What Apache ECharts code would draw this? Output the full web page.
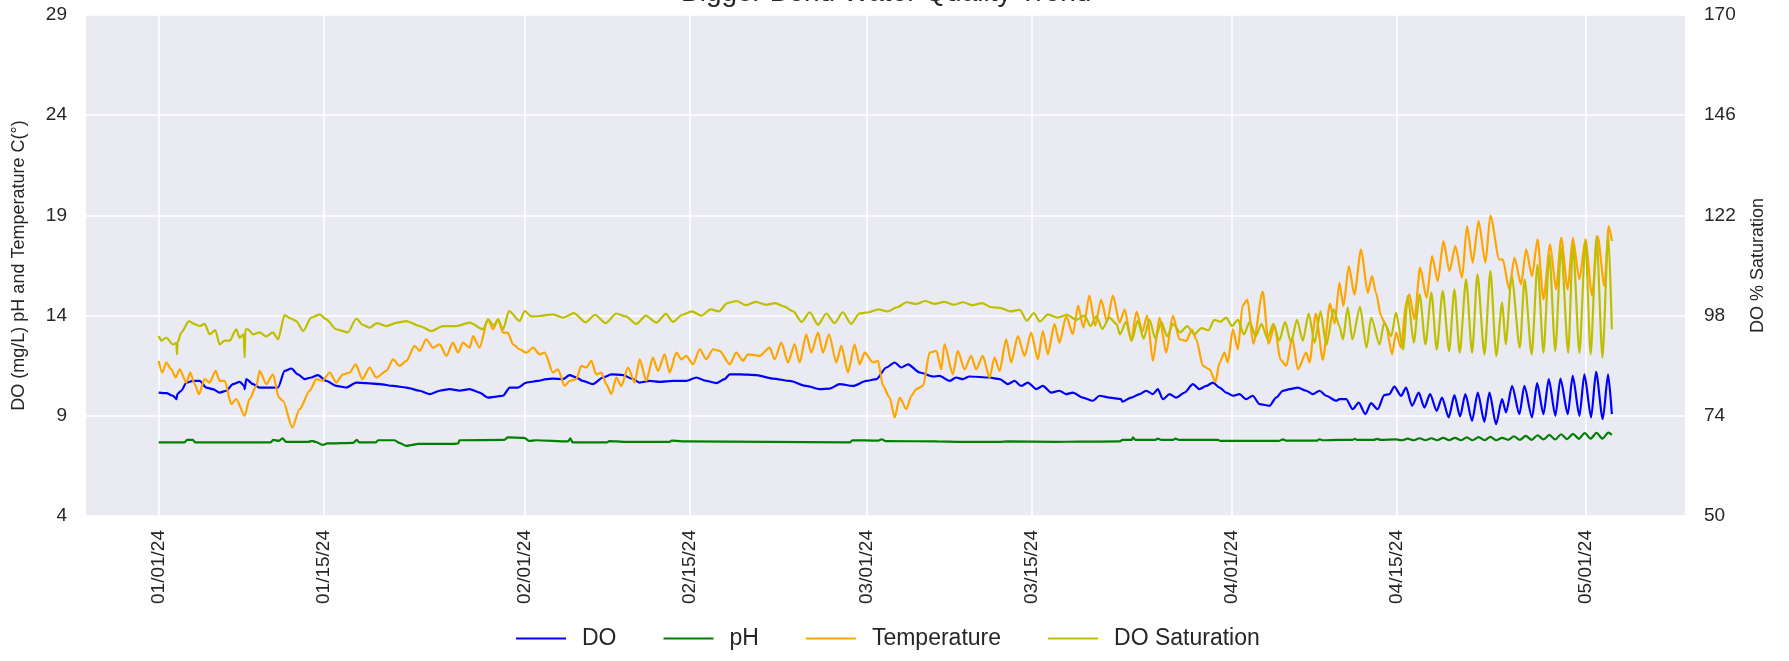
<!DOCTYPE html>
<html lang="en">
<head>
    <meta charset="UTF-8" />
    <title>Bigger Bend Water Quality Trend</title>
    <script src="https://cdn.jsdelivr.net/npm/echarts@6/dist/echarts.min.js"></script>
    <style type="text/css">
        html, body { margin: 0; padding: 0; background: #fff; }
        #chart { width: 1789px; height: 661px; }
    </style>
</head>
<body>
    <div id="chart"></div>
    <script type="text/javascript">
        // days counted from 01/01/24 00:00
        var seriesNames = ['DO', 'pH', 'Temperature', 'DO Saturation'];
        var tickDates = ['2024-01-01', '2024-01-15', '2024-02-01', '2024-02-15', '2024-03-01',
                         '2024-03-15', '2024-04-01', '2024-04-15', '2024-05-01'];
        var leftTicks = [4, 9, 14, 19, 24, 29];
        var rightTicks = [50, 74, 98, 122, 146, 170];

        var doPoints = [
            [0,10.16],[0.65,10.13],[1.22,10.0],[1.5,9.83],[1.6,10.1],[1.92,10.25],[2.35,10.66],[2.91,10.74],
            [3.48,10.74],[4.04,10.41],[4.6,10.33],[5.17,10.16],[5.74,10.25],[6.3,10.58],[6.87,10.69],[7.25,10.5],
            [7.29,10.33],[7.43,10.83],[8.0,10.58],[8.56,10.41],[9.41,10.41],[10.12,10.41],[10.68,11.24],[11.25,11.36],
            [11.81,11.07],[12.38,10.83],[12.94,10.91],[13.5,11.03],[14.21,10.74],[15.06,10.49],[15.91,10.41],
            [16.76,10.66],[17.61,10.63],[18.74,10.58],[19.87,10.49],[21.0,10.41],[22.13,10.25],[22.98,10.08],
            [23.82,10.25],[24.67,10.33],[25.52,10.25],[26.37,10.33],[27.2,10.16],[27.92,9.91],[28.63,9.96],
            [29.19,10.0],[29.76,10.41],[30.46,10.41],[31.17,10.66],[32.16,10.74],[32.87,10.83],[33.43,10.86],
            [34.28,10.83],[34.84,11.03],[35.4,10.91],[35.97,10.74],[36.8,10.58],[37.67,10.91],[38.38,11.07],
            [39.37,11.03],[40.21,10.83],[40.78,10.66],[41.63,10.74],[42.47,10.69],[43.6,10.74],[44.73,10.74],
            [45.58,10.91],[46.43,10.74],[47.28,10.63],[47.98,10.83],[48.41,11.07],[49.26,11.07],[50.67,11.03],
            [52.08,10.86],[53.5,10.74],[54.9,10.49],[56.04,10.33],[56.89,10.36],[57.73,10.58],[58.86,10.49],
            [60.0,10.74],[60.84,10.83],[61.69,11.41],[62.4,11.66],[62.96,11.41],[63.53,11.57],[64.52,11.16],
            [65.65,10.96],[66.2,10.99],[67.05,10.74],[67.6,10.91],[68.18,10.83],[68.74,10.96],[70.44,10.91],
            [71.29,10.83],[72.0,10.58],[72.56,10.74],[73.12,10.49],[73.69,10.66],[74.4,10.33],[74.96,10.49],
            [75.67,10.16],[76.37,10.25],[76.94,10.08],[77.5,10.16],[78.35,9.91],[79.2,9.75],[79.76,10.0],
            [80.61,9.91],[81.6,9.83],[81.69,9.7],[82.45,9.91],[83.16,10.08],[83.72,10.25],[84.29,10.08],
            [84.71,10.33],[85.13,9.83],[85.7,10.08],[86.27,9.91],[86.97,10.16],[87.68,10.58],[88.24,10.33],
            [88.81,10.49],[89.37,10.66],[89.94,10.41],[90.5,10.16],[91.07,10.0],[91.63,10.08],[92.2,9.83],
            [92.76,10.0],[93.33,9.58],[94.18,9.5],[94.74,9.91],[95.31,10.25],[95.87,10.33],[96.58,10.41],
            [97.29,10.25],[97.85,10.08],[98.42,10.25],[98.98,10.0],[99.83,9.75],[100.1,9.83],[100.67,9.83],
            [101.23,9.33],[101.74,9.66],[102.3,9.08],[102.78,9.63],[103.35,9.33],[103.9,10.03],[104.34,10.08],
            [104.76,10.46],[105.33,9.99],[105.75,10.41],[106.26,9.5],[106.83,10.16],[107.3,9.41],[107.79,10.08],
            [108.35,9.25],[108.8,9.91],[109.37,8.92],[109.85,10.03],[110.33,8.97],[110.78,10.08],[111.35,8.75],
            [111.83,10.16],[112.39,8.7],[112.82,10.16],[113.38,8.58],[113.89,9.83],[114.23,9.17],[114.74,10.49],
            [115.36,9.08],[115.78,10.49],[116.43,8.92],[116.86,10.63],[117.4,9.08],[117.85,10.83],[118.41,9.0],
            [118.84,10.86],[119.46,9.08],[119.88,10.99],[120.45,9.0],[120.87,11.07],[121.44,8.92],[121.86,11.19],
            [122.43,8.83],[122.88,11.07],[123.2,9.08]
        ];

        var phPoints = [
            [0,7.67],[2.2,7.67],[2.4,7.8],[2.9,7.8],[3.1,7.67],[9.5,7.67],[9.7,7.8],[10.2,7.75],[10.5,7.88],
            [10.8,7.7],[12.7,7.7],[13.0,7.75],[13.3,7.7],[13.9,7.55],[14.3,7.62],[16.5,7.65],[16.8,7.8],[17.0,7.67],
            [18.4,7.67],[18.6,7.78],[20.0,7.78],[20.4,7.65],[21.0,7.5],[21.5,7.55],[22.0,7.6],[25.0,7.6],
            [25.4,7.62],[25.5,7.78],[29.3,7.8],[29.6,7.92],[31.0,7.9],[31.4,7.75],[32.0,7.78],[34.7,7.72],
            [34.9,7.87],[35.1,7.67],[38.0,7.67],[38.2,7.74],[39.5,7.7],[43.3,7.7],[43.5,7.76],[44.8,7.72],
            [58.6,7.67],[58.8,7.78],[61.0,7.76],[61.3,7.83],[61.6,7.74],[66.0,7.72],[68.0,7.7],[71.3,7.7],
            [72.0,7.72],[76.0,7.7],[78.0,7.71],[81.5,7.72],[81.7,7.8],[82.5,7.8],[82.6,7.92],[82.8,7.8],
            [84.5,7.8],[84.7,7.86],[85.0,7.8],[86.0,7.8],[86.2,7.86],[86.5,7.8],[89.8,7.8],[90.0,7.75],
            [95.0,7.75],[95.3,7.82],[95.6,7.76],[98.2,7.76],[98.4,7.83],[98.7,7.78],[100.0,7.8],[101.2,7.8],
            [101.4,7.85],[101.6,7.8],[103.0,7.8],[103.3,7.85],[103.6,7.8],[104.9,7.82],[105.4,7.78],[105.9,7.86],
            [106.4,7.78],[106.9,7.88],[107.4,7.78],[107.9,7.88],[108.4,7.78],[108.9,7.9],[109.4,7.78],[109.9,7.9],
            [110.4,7.78],[110.9,7.92],[111.4,7.78],[111.9,7.94],[112.4,7.78],[112.9,7.95],[113.4,7.78],[113.9,7.9],
            [114.4,7.8],[114.9,7.98],[115.4,7.8],[115.9,8.0],[116.4,7.8],[116.9,8.03],[117.4,7.82],[117.9,8.05],
            [118.4,7.82],[118.9,8.08],[119.4,7.84],[119.9,8.1],[120.4,7.85],[120.9,8.14],[121.4,7.86],[121.9,8.15],
            [122.4,7.86],[122.9,8.16],[123.2,8.05]
        ];

        var tempPoints = [
            [0,11.74],[0.31,11.16],[0.65,11.66],[1.07,11.32],[1.44,10.91],[1.78,11.32],[2.35,10.66],[2.68,11.16],
            [3.05,10.58],[3.42,10.08],[3.9,10.83],[4.32,10.66],[4.83,11.24],[5.17,10.74],[5.6,10.74],[6.16,9.58],
            [6.58,9.83],[7.29,9.0],[7.7,9.83],[8.28,10.49],[8.56,11.24],[9.13,10.58],[9.69,11.07],[10.2,9.91],
            [10.54,9.75],[11.33,8.42],[11.95,9.33],[12.8,10.25],[13.37,10.83],[13.88,10.74],[14.5,11.16],
            [15.06,10.66],[15.63,11.07],[16.19,11.16],[16.7,11.57],[17.27,10.83],[17.89,11.41],[18.45,10.91],
            [19.3,11.24],[19.87,11.82],[20.43,11.49],[21.0,11.74],[21.7,12.49],[22.13,12.24],[22.69,12.82],
            [23.26,12.4],[23.82,12.57],[24.39,11.99],[24.95,12.65],[25.38,12.15],[25.8,12.65],[26.37,12.4],
            [26.65,12.98],[27.2,12.4],[27.92,13.81],[28.35,13.32],[28.77,13.81],[29.19,13.15],[29.6,13.15],
            [30.04,12.57],[30.6,12.32],[31.17,12.15],[31.74,12.4],[32.3,12.07],[32.73,12.15],[33.43,11.16],
            [33.85,11.32],[34.42,10.49],[34.84,10.74],[35.4,10.83],[35.83,11.49],[36.26,11.41],[36.68,11.74],
            [37.1,11.07],[37.53,11.16],[37.95,10.58],[38.38,10.08],[38.8,10.91],[39.22,10.49],[39.79,11.41],
            [40.35,10.66],[40.78,11.82],[41.34,10.74],[41.9,11.9],[42.33,11.24],[42.9,12.07],[43.32,11.16],
            [43.89,12.15],[44.31,11.82],[44.73,11.99],[45.3,11.57],[45.87,12.32],[46.43,11.82],[47.0,12.32],
            [47.56,12.24],[48.41,11.57],[48.97,12.15],[49.54,11.74],[49.96,12.07],[50.95,11.99],[51.8,12.4],
            [52.22,11.82],[52.79,12.65],[53.35,11.66],[53.92,12.57],[54.34,11.66],[54.9,13.07],[55.33,12.15],
            [55.9,13.15],[56.32,12.15],[56.83,13.07],[57.45,11.66],[57.88,12.49],[58.44,11.16],[59.0,12.57],
            [59.43,11.57],[59.85,12.15],[60.56,11.66],[60.98,11.74],[61.41,10.49],[61.97,9.91],[62.4,8.92],
            [62.82,9.91],[63.39,9.33],[63.81,10.0],[64.24,10.33],[64.8,10.49],[65.36,12.15],[65.93,12.24],
            [66.35,11.32],[66.62,12.57],[67.33,11.07],[67.75,12.24],[68.32,11.32],[68.88,11.99],[69.3,11.32],
            [69.87,11.99],[70.44,10.91],[70.86,11.9],[71.29,11.24],[71.85,12.82],[72.28,11.66],[72.84,12.98],
            [73.41,11.99],[73.97,13.15],[74.54,11.82],[74.96,13.23],[75.38,12.07],[75.95,13.57],[76.37,12.65],
            [76.94,13.98],[77.5,13.07],[77.95,14.5],[78.4,13.4],[78.9,15.0],[79.4,13.5],[79.9,14.8],[80.4,13.7],
            [80.9,15.0],[81.46,13.65],[81.9,14.3],[82.45,12.74],[82.9,14.2],[83.4,13.2],[83.8,14.0],[84.29,11.74],
            [84.85,13.9],[85.42,12.15],[85.98,14.0],[86.55,12.82],[87.11,12.74],[87.6,13.3],[87.96,12.82],
            [88.53,11.49],[89.09,11.32],[89.6,10.69],[89.94,11.66],[90.36,12.15],[90.64,11.66],[91.07,13.32],
            [91.49,12.32],[91.9,14.5],[92.3,14.8],[92.8,12.6],[93.6,15.2],[94.1,12.6],[94.6,13.5],[95.1,11.8],
            [95.6,11.49],[96.1,12.9],[96.58,11.32],[97.29,12.15],[97.57,11.66],[98.1,14.1],[98.7,11.8],
            [99.3,14.6],[99.7,13.6],[100.1,15.64],[100.44,14.48],[100.9,16.47],[101.37,15.06],[101.94,17.3],
            [102.5,15.14],[102.87,15.97],[103.2,15.14],[103.63,13.98],[104.06,13.48],[104.57,12.07],[104.9,13.15],
            [105.33,12.4],[105.75,14.64],[106.03,15.06],[106.46,13.81],[106.94,16.39],[107.5,14.89],[107.96,16.97],
            [108.44,15.72],[108.92,17.72],[109.43,16.22],[109.93,17.47],[110.5,15.89],[110.92,18.46],[111.4,16.64],
            [111.9,18.71],[112.48,16.64],[112.9,18.99],[113.66,16.8],[113.95,16.8],[114.5,15.31],[114.94,16.89],
            [115.5,15.56],[115.93,17.3],[116.43,15.97],[116.9,17.8],[117.4,14.81],[117.96,17.55],[118.47,15.31],
            [118.9,17.88],[119.46,15.31],[119.88,17.88],[120.45,15.81],[120.96,17.8],[121.52,15.0],[122.0,17.96],
            [122.57,15.47],[122.93,18.46],[123.2,17.72]
        ];

        var satPoints = [
            [0,93.1],[0.23,92.0],[0.65,92.7],[1.22,91.1],[1.5,91.5],[1.55,88.7],[1.6,91.5],[1.92,94.0],[2.57,96.7],
            [3.0,96.0],[3.48,95.5],[3.9,96.0],[4.33,93.5],[4.8,94.5],[5.17,91.1],[5.6,92.0],[6.02,92.0],[6.58,94.7],
            [6.87,92.7],[7.2,93.5],[7.29,88.0],[7.35,94.7],[7.57,94.7],[8.0,93.5],[8.56,94.0],[9.1,93.0],[9.69,94.0],
            [10.12,92.3],[10.68,98.1],[11.2,97.3],[11.67,96.7],[12.24,94.3],[12.94,97.5],[13.65,98.3],[14.21,97.1],
            [15.06,94.7],[16.05,94.0],[16.76,97.3],[17.3,95.8],[17.89,95.1],[18.5,96.2],[19.3,95.5],[20.2,96.3],
            [21.0,96.7],[22.13,95.5],[23.12,94.3],[24.1,95.5],[25.24,95.5],[26.37,96.3],[27.5,94.7],[27.92,97.1],
            [28.4,95.6],[28.77,97.1],[29.19,94.7],[29.7,99.1],[30.6,96.7],[31.03,99.1],[31.6,97.8],[32.3,97.9],
            [33.43,98.3],[34.3,97.5],[35.2,98.6],[36.2,96.4],[37.0,98.2],[37.9,96.2],[38.8,98.5],[39.6,97.8],
            [40.5,96.0],[41.3,98.0],[42.2,96.3],[43.0,98.4],[43.6,96.5],[44.4,98.2],[45.2,99.0],[46.0,98.0],
            [46.8,99.5],[47.5,99.0],[48.2,101.0],[49.0,101.5],[49.8,100.5],[50.6,101.3],[51.5,100.6],[52.3,101.0],
            [53.0,100.2],[53.8,99.0],[54.5,96.5],[55.2,98.8],[55.9,95.8],[56.6,98.5],[57.3,96.2],[58.0,98.8],
            [58.7,96.0],[59.4,98.5],[60.2,98.8],[61.0,99.5],[61.8,99.0],[62.6,100.0],[63.4,101.2],[64.2,100.8],
            [65.0,101.5],[65.8,100.8],[66.6,101.3],[67.4,100.6],[68.2,101.2],[69.0,100.5],[69.8,101.0],[70.6,100.0],
            [71.4,99.8],[72.2,99.0],[73.0,99.4],[73.6,96.8],[74.2,98.6],[74.7,96.6],[75.4,98.3],[76.2,97.5],
            [77.0,98.2],[77.8,97.0],[78.5,98.0],[79.0,95.5],[79.5,97.8],[80.0,94.8],[80.6,97.5],[81.2,96.0],
            [81.5,93.5],[82.0,96.5],[82.5,92.0],[83.0,96.8],[83.5,92.5],[84.0,97.0],[84.5,92.5],[85.0,96.5],
            [85.5,93.0],[86.0,96.0],[86.6,94.0],[87.2,95.5],[87.8,93.5],[88.4,95.0],[89.0,94.5],[89.5,97.0],
            [90.0,96.5],[90.5,97.5],[91.0,95.5],[91.5,97.0],[92.0,93.5],[92.5,96.5],[93.0,93.0],[93.5,96.0],
            [94.0,92.5],[94.5,96.0],[95.0,92.0],[95.5,96.5],[96.0,91.5],[96.5,97.0],[97.0,92.0],[97.5,98.5],
            [98.0,91.5],[98.5,99.0],[99.0,91.0],[99.6,99.5],[100.1,95.5],[100.4,92.3],[100.8,99.9],[101.2,92.3],
            [101.85,100.1],[102.4,90.3],[102.8,97.5],[103.5,91.1],[103.9,96.3],[104.5,93.1],[104.9,98.7],
            [105.5,89.9],[105.9,102.7],[106.4,91.5],[106.9,103.1],[107.4,91.1],[107.9,103.5],[108.35,89.9],
            [108.86,103.9],[109.4,89.5],[109.85,104.3],[110.3,89.1],[110.84,106.7],[111.35,89.1],[111.8,107.9],
            [112.4,88.7],[112.9,108.7],[113.4,88.3],[113.9,101.1],[114.2,91.1],[114.7,107.5],[115.4,90.3],
            [115.8,106.7],[116.4,88.7],[116.9,110.3],[117.4,89.1],[117.9,112.7],[118.4,89.5],[118.9,114.2],
            [119.5,89.1],[119.9,115.0],[120.45,89.1],[120.96,115.8],[121.4,88.7],[121.9,117.0],[122.4,88.0],
            [122.9,117.4],[123.2,94.7]
        ];

        var START = Date.UTC(2024, 0, 1);
        var DAY = 86400000;

        function toTime(points) {
            return points.map(function (p) { return [START + p[0] * DAY, p[1]]; });
        }
        function pad(n) { return (n < 10 ? '0' : '') + n; }

        var tickValues = tickDates.map(function (s) {
            var parts = s.split('-');
            return Date.UTC(+parts[0], +parts[1] - 1, +parts[2]);
        });

        var FONT = "'Liberation Sans', Arial, sans-serif";
        var TEXT = '#262626';

        var chart = echarts.init(document.getElementById('chart'), null, { renderer: 'canvas' });

        function lineSeries(name, points, color, axisIndex) {
            return {
                name: name,
                type: 'line',
                yAxisIndex: axisIndex,
                data: toTime(points),
                showSymbol: false,
                symbol: 'none',
                smooth: 0.25,
                smoothMonotone: 'x',
                color: color,
                lineStyle: { color: color, width: 2.2 }
            };
        }

        var option = {
            animation: false,
            backgroundColor: '#ffffff',
            textStyle: { fontFamily: FONT, color: TEXT },
            title: {
                text: 'Bigger Bend Water Quality Trend',
                left: 681,
                top: -21,
                padding: 0,
                textStyle: { fontFamily: FONT, fontSize: 28, fontWeight: 'normal', color: TEXT }
            },
            grid: {
                left: 86, right: 104, top: 15, bottom: 145,
                show: true, backgroundColor: '#eaeaf2', borderWidth: 0
            },
            legend: {
                data: seriesNames,
                left: 511,
                top: 622,
                itemWidth: 50,
                itemHeight: 14,
                itemGap: 47,
                icon: 'path://M0,6 L50,6 L50,8 L0,8 Z',
                textStyle: { fontFamily: FONT, fontSize: 23, color: TEXT, padding: [0, 0, 0, 11] }
            },
            xAxis: {
                // timestamps on a value axis so that the ticks can sit on the reference's dates
                type: 'value',
                min: START - 6.16 * DAY,
                max: START + 129.4 * DAY,
                axisLine: { show: false },
                axisTick: { show: false, customValues: tickValues },
                splitLine: { show: true, lineStyle: { color: '#ffffff', width: 1.6 } },
                axisLabel: {
                    customValues: tickValues,
                    rotate: 90,
                    margin: 14,
                    fontFamily: FONT,
                    fontSize: 19,
                    color: TEXT,
                    formatter: function (v) {
                        var d = new Date(v);
                        return pad(d.getUTCMonth() + 1) + '/' + pad(d.getUTCDate()) + '/' +
                            String(d.getUTCFullYear()).slice(2);
                    }
                }
            },
            yAxis: [
                {
                    type: 'value',
                    min: leftTicks[0],
                    max: leftTicks[leftTicks.length - 1],
                    interval: leftTicks[1] - leftTicks[0],
                    name: 'DO (mg/L) pH and Temperature C(\u00b0)',
                    nameLocation: 'middle',
                    nameRotate: 90,
                    nameGap: 58,
                    nameTextStyle: { fontFamily: FONT, fontSize: 18, color: TEXT },
                    axisLine: { show: false },
                    axisTick: { show: false },
                    splitLine: { show: true, lineStyle: { color: '#ffffff', width: 1.6 } },
                    axisLabel: { margin: 19, fontFamily: FONT, fontSize: 19, color: TEXT }
                },
                {
                    type: 'value',
                    min: rightTicks[0],
                    max: rightTicks[rightTicks.length - 1],
                    interval: rightTicks[1] - rightTicks[0],
                    position: 'right',
                    name: 'DO % Saturation',
                    nameLocation: 'middle',
                    nameRotate: 90,
                    nameGap: 64,
                    nameTextStyle: { fontFamily: FONT, fontSize: 18, color: TEXT },
                    axisLine: { show: false },
                    axisTick: { show: false },
                    splitLine: { show: false },
                    axisLabel: { margin: 19, fontFamily: FONT, fontSize: 19, color: TEXT }
                }
            ],
            series: [
                lineSeries(seriesNames[0], doPoints, '#0000ff', 0),
                lineSeries(seriesNames[1], phPoints, '#008000', 0),
                lineSeries(seriesNames[2], tempPoints, '#ffa500', 0),
                lineSeries(seriesNames[3], satPoints, '#bfbf00', 1)
            ]
        };

        chart.setOption(option);
    </script>
</body>
</html>
